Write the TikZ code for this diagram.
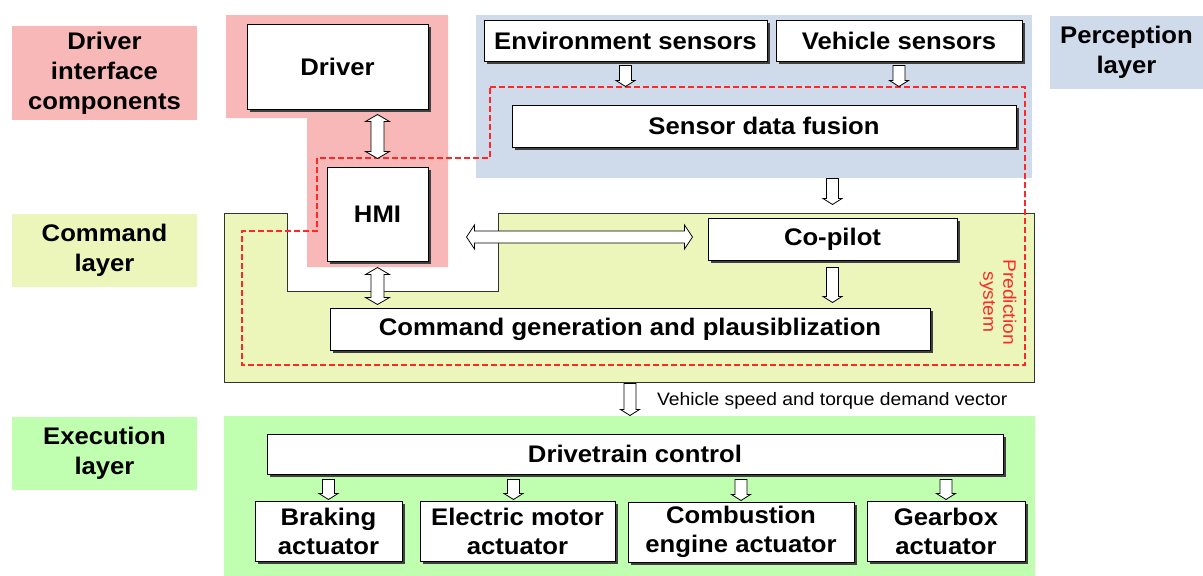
\documentclass[tikz,border=0pt]{standalone}
\usepackage{fontspec}
\setmainfont{Liberation Sans}[FakeStretch=1.07]
\usepackage{tikz}
\usetikzlibrary{calc,shadows}

\definecolor{drvpink}{RGB}{248,184,184}
\definecolor{cmdyellow}{RGB}{236,245,186}
\definecolor{exegreen}{RGB}{192,255,176}
\definecolor{percblue}{RGB}{207,218,235}
\definecolor{predred}{RGB}{255,40,40}

\tikzset{
  box/.style={draw, fill=white, line width=1pt, inner sep=0pt, align=center,
    font=\bfseries\fontsize{24}{29}\selectfont,
    drop shadow={shadow xshift=2.5pt, shadow yshift=-2.5pt, fill=black!75, opacity=1}},
  layerlabel/.style={inner sep=0pt, align=center, font=\bfseries\fontsize{24}{30}\selectfont},
  % hollow block arrows, built from the two end points
  down arrow/.style={draw, fill=white, line width=0.8pt, to path={
    let \p1=(\tikztostart), \p2=(\tikztotarget) in
    (\x1-6pt,\y1) -- (\x1+6pt,\y1) -- (\x1+6pt,\y2+6pt) -- (\x1+9.5pt,\y2+6pt)
    -- (\x1,\y2) -- (\x1-9.5pt,\y2+6pt) -- (\x1-6pt,\y2+6pt) -- cycle}},
  vdouble arrow/.style={draw, fill=white, line width=0.8pt, to path={
    let \p1=(\tikztostart), \p2=(\tikztotarget) in
    (\x1,\y1) -- (\x1+12pt,\y1-7pt) -- (\x1+6.5pt,\y1-7pt) -- (\x1+6.5pt,\y2+7pt)
    -- (\x1+12pt,\y2+7pt) -- (\x1,\y2) -- (\x1-12pt,\y2+7pt) -- (\x1-6.5pt,\y2+7pt)
    -- (\x1-6.5pt,\y1-7pt) -- (\x1-12pt,\y1-7pt) -- cycle}},
  hdouble arrow/.style={draw, fill=white, line width=0.8pt, to path={
    let \p1=(\tikztostart), \p2=(\tikztotarget) in
    (\x1,\y1) -- (\x1+8pt,\y1+12pt) -- (\x1+8pt,\y1+6pt) -- (\x2-8pt,\y1+6pt)
    -- (\x2-8pt,\y1+12pt) -- (\x2,\y1) -- (\x2-8pt,\y1-12pt) -- (\x2-8pt,\y1-6pt)
    -- (\x1+8pt,\y1-6pt) -- (\x1+8pt,\y1-12pt) -- cycle}},
}

\begin{document}
\begin{tikzpicture}[x=1pt, y=-1pt]
  \useasboundingbox (0,0) rectangle (1203,576);

  % layer areas
  \fill[drvpink] (226,15) -- (448,15) -- (448,267) -- (307,267) -- (307,118) -- (226,118) -- cycle;
  \fill[percblue] (476,15) rectangle (1032,178);
  \filldraw[fill=cmdyellow, draw=black!80, line width=0.8pt]
    (224,213) -- (287,213) -- (287,291) -- (498,291) -- (498,213)
    -- (1034,213) -- (1034,382) -- (224,382) -- cycle;
  \fill[exegreen] (224,416) rectangle (1035,576);

  % layer names
  \node[layerlabel, fill=drvpink, minimum width=185, minimum height=94] (lbldrv) at (104.5,73) {Driver\\interface\\components};
  \node[layerlabel, fill=cmdyellow, minimum width=185, minimum height=73] (lblcmd) at (104.5,250.5) {Command\\layer};
  \node[layerlabel, fill=exegreen, minimum width=185, minimum height=73] (lblexe) at (104.5,453.5) {Execution\\layer};
  \node[layerlabel, fill=percblue, minimum width=153, minimum height=73] (lblperc) at (1126.5,52.5) {Perception\\layer};

  % prediction system
  \draw[predred, line width=1.3pt, dash pattern=on 6pt off 3pt]
    (490,87) -- (1025,87) -- (1025,365) -- (242,365) -- (242,231)
    -- (317,231) -- (317,158) -- (490,158) -- cycle;
  \node[predred, rotate=-90, align=center, font=\fontsize{18}{20}\selectfont] (pred) at (998,302) {Prediction\\system};

  % components
  \node[box, minimum width=181, minimum height=85] (driver) at (337.5,66.5) {Driver};
  \node[box, minimum width=101, minimum height=94] (hmi) at (377.5,214) {HMI};
  \node[box, minimum width=283, minimum height=41] (env) at (625.5,40.5) {Environment sensors};
  \node[box, minimum width=246, minimum height=41] (veh) at (899,40.5) {Vehicle sensors};
  \node[box, minimum width=504, minimum height=42] (fusion) at (764,126) {Sensor data fusion};
  \node[box, minimum width=249, minimum height=42] (copilot) at (832.5,239) {Co-pilot};
  \node[box, minimum width=600, minimum height=42] (cmd) at (630,329) {Command generation and plausiblization};
  \node[box, minimum width=736, minimum height=40] (drive) at (635,454) {Drivetrain control};
  \node[box, minimum width=147, minimum height=60] (brake) at (328.5,531) {Braking\\actuator};
  \node[box, minimum width=195, minimum height=60] (motor) at (517.5,531) {Electric motor\\actuator};
  \node[box, minimum width=226, minimum height=60] (comb) at (741,532) {Combustion\\engine actuator};
  \node[box, minimum width=158, minimum height=60] (gear) at (946,531) {Gearbox\\actuator};

  % signal flow
  \draw[vdouble arrow] ([yshift=-5]driver.south -| hmi.north) to ([yshift=8]hmi.north);
  \draw[vdouble arrow] ([yshift=-6]hmi.south) to ([yshift=3]cmd.north -| hmi.south);
  \coordinate (hmiR) at ($(copilot.west)+(-241,-2)$);
  \coordinate (copL) at ($(copilot.west)+(-15,-2)$);
  \draw[hdouble arrow] (hmiR) to (copL);
  \draw[down arrow] ([yshift=-4]env.south) to ([yshift=18]fusion.north -| env.south);
  \draw[down arrow] ([yshift=-4]veh.south) to ([yshift=18]fusion.north -| veh.south);
  \draw[down arrow] ([yshift=-31]fusion.south -| copilot.north) to ([yshift=13]copilot.north);
  \draw[down arrow] ([yshift=-7]copilot.south) to ([yshift=5]cmd.north -| copilot.south);
  \draw[down arrow] ([yshift=-33]cmd.south) to ([yshift=18]drive.north -| cmd.south);
  \foreach \act/\dx in {brake/0, motor/-4, comb/0, gear/0}
    \draw[down arrow] ([xshift=\dx, yshift=-5]drive.south -| \act.north) to ([xshift=\dx, yshift=1]\act.north);

  \node[anchor=west, font=\fontsize{18}{20}\selectfont, inner sep=0pt] (demand) at (657,401) {Vehicle speed and torque demand vector};
\end{tikzpicture}
\end{document}
